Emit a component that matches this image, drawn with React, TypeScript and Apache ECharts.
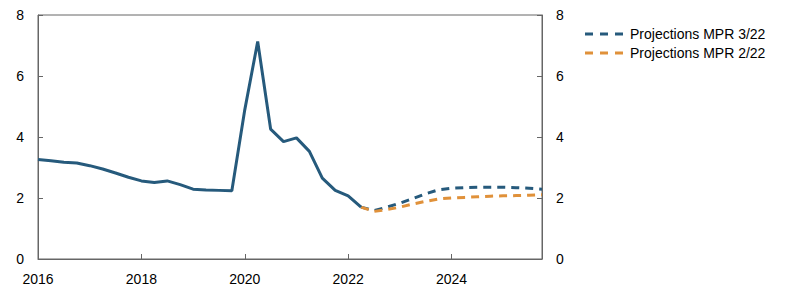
import React, { useEffect, useRef } from "react";
import * as echarts from "echarts";

const histX = [
  2016.0, 2016.25, 2016.5, 2016.75, 2017.0, 2017.25, 2017.5, 2017.75,
  2018.0, 2018.25, 2018.5, 2018.75, 2019.0, 2019.25, 2019.5, 2019.75,
  2020.0, 2020.25, 2020.5, 2020.75, 2021.0, 2021.25, 2021.5, 2021.75,
  2022.0, 2022.25,
];
const histY = [
  3.26, 3.22, 3.17, 3.15, 3.06, 2.95, 2.82, 2.68,
  2.56, 2.51, 2.56, 2.44, 2.29, 2.26, 2.25, 2.24,
  4.89, 7.13, 4.26, 3.85, 3.97, 3.53, 2.65, 2.25,
  2.07, 1.7,
];
const projX = [
  2022.25, 2022.5, 2022.75, 2023.0, 2023.25, 2023.5, 2023.75, 2024.0,
  2024.25, 2024.5, 2024.75, 2025.0, 2025.25, 2025.5, 2025.75,
];
const mpr322 = [
  1.7, 1.59, 1.7, 1.83, 1.98, 2.14, 2.27, 2.32,
  2.34, 2.35, 2.35, 2.35, 2.34, 2.32, 2.29,
];
const mpr222 = [
  1.7, 1.56, 1.62, 1.7, 1.8, 1.89, 1.97, 2.0,
  2.02, 2.04, 2.06, 2.07, 2.08, 2.09, 2.11,
];
const legendNames = ["Projections MPR 3/22", "Projections MPR 2/22"];
const yTicks = { min: 0, max: 8, interval: 2 };
const xRange = { min: 2016, max: 2025.75, interval: 2 };

const BLUE = "#265a7c";
const ORANGE = "#e0913a";
const AXIS = "#666666";
const FONT = "Liberation Sans";
const DASH_ICON = "path://M0,0h8v3h-8z M15,0h8v3h-8z M30,0h8v3h-8z";

const zip = (xs: number[], ys: number[]) => xs.map((x, i) => [x, ys[i]]);

export default function App() {
  const ref = useRef<HTMLDivElement>(null);
  useEffect(() => {
    if (!ref.current) return;
    const chart = echarts.init(ref.current, undefined, { renderer: "svg" });
    const yAxisBase = {
      type: "value" as const,
      min: yTicks.min,
      max: yTicks.max,
      interval: yTicks.interval,
      splitLine: { show: false },
      axisLine: { show: true, lineStyle: { color: AXIS, width: 1 } },
      axisTick: { show: true, inside: true, length: 5, lineStyle: { color: AXIS } },
      axisLabel: { color: "#000", fontSize: 14, fontFamily: FONT, margin: 14 },
    };
    chart.setOption({
      animation: false,
      textStyle: { fontFamily: FONT },
      grid: {
        left: 38,
        right: 255,
        top: 15,
        bottom: 36,
        show: true,
        borderColor: AXIS,
        borderWidth: 1,
        containLabel: false,
      },
      legend: {
        data: legendNames.map((name) => ({ name, icon: DASH_ICON })),
        orient: "vertical",
        left: 580,
        top: 22,
        itemWidth: 38,
        itemHeight: 3,
        itemGap: 5,
        textStyle: { color: "#000", fontSize: 14, fontFamily: FONT, padding: [0, 0, 0, 2] },
      },
      xAxis: {
        type: "value",
        min: xRange.min,
        max: xRange.max,
        interval: xRange.interval,
        splitLine: { show: false },
        axisLine: { show: true, lineStyle: { color: AXIS, width: 1 } },
        axisTick: { show: true, inside: true, length: 5, lineStyle: { color: AXIS } },
        axisLabel: {
          color: "#000",
          fontSize: 14,
          fontFamily: FONT,
          margin: 13,
          showMaxLabel: false,
          formatter: (v: number) => (Number.isInteger(v) ? String(v) : ""),
        },
      },
      yAxis: [
        { ...yAxisBase, position: "left" },
        { ...yAxisBase, position: "right" },
      ],
      series: [
        {
          name: "Historical",
          type: "line",
          data: zip(histX, histY),
          showSymbol: false,
          symbol: "none",
          lineStyle: { color: BLUE, width: 3 },
          itemStyle: { color: BLUE },
          z: 3,
        },
        {
          name: legendNames[0],
          type: "line",
          data: zip(projX, mpr322),
          showSymbol: false,
          symbol: "none",
          lineStyle: { color: BLUE, width: 3, type: [8, 6] },
          itemStyle: { color: BLUE },
          z: 2,
        },
        {
          name: legendNames[1],
          type: "line",
          data: zip(projX, mpr222),
          showSymbol: false,
          symbol: "none",
          lineStyle: { color: ORANGE, width: 3, type: [8, 6] },
          itemStyle: { color: ORANGE },
          z: 2,
        },
      ],
    });
    return () => chart.dispose();
  }, []);
  return <div ref={ref} style={{ width: 797, height: 295, margin: -8 }} />;
}
